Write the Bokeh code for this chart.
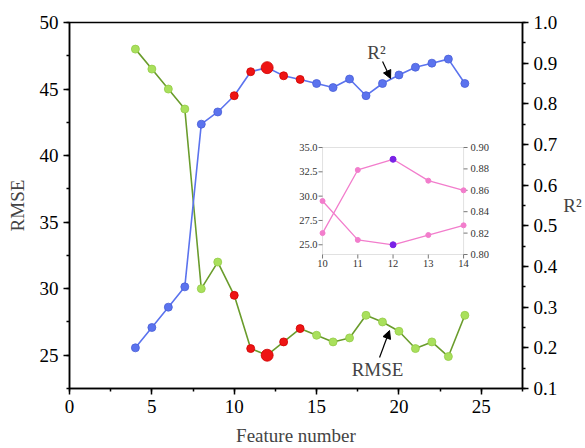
import math
from bokeh.plotting import figure
from bokeh.models import (Range1d, LinearAxis, SingleIntervalTicker, PrintfTickFormatter,
                          Label, Arrow, NormalHead, BoxAnnotation)
from bokeh.core.properties import value
from bokeh.embed import file_html
from bokeh.resources import INLINE

# ---------------- data ----------------
features = list(range(4, 25))
rmse = [48.0, 46.5, 45.0, 43.5, 30.0, 32.0, 29.5, 25.5, 25.0, 26.0, 27.0,
        26.5, 26.0, 26.3, 28.0, 27.5, 26.8, 25.5, 26.0, 24.9, 28.0]
r2 = [0.20, 0.25, 0.30, 0.35, 0.75, 0.78, 0.82, 0.879, 0.889, 0.869, 0.86,
      0.85, 0.84, 0.861, 0.82, 0.85, 0.871, 0.89, 0.90, 0.91, 0.85]
highlight = [10, 11, 12, 13, 14]
best = 12

inset_features = [10, 11, 12, 13, 14]
inset_rmse = [29.5, 25.5, 25.0, 26.0, 27.0]
inset_r2 = [0.82, 0.879, 0.889, 0.869, 0.86]

x_ticks_inset = [10, 11, 12, 13, 14]
yl_ticks_inset = [25.0, 27.5, 30.0, 32.5, 35.0]
yr_ticks_inset = [0.80, 0.82, 0.84, 0.86, 0.88, 0.90]

# ---------------- styling ----------------
FONT = "Liberation Serif"
FS = "19px"
GREEN_LINE = "#6a9c2c"
GREEN_FILL = "#a9e05c"
BLUE = "#5b73ee"
RED = "#ee1414"
PINK = "#f27dcc"
PURPLE = "#7a22e6"

X0, X1 = 0, 27.5
YL0, YL1 = 22.5, 50
YR0, YR1 = 0.1, 1.0

p = figure(width=585, height=448, output_backend="svg", toolbar_location=None,
           x_range=Range1d(X0, X1), y_range=Range1d(YL0, YL1),
           min_border_left=69, min_border_right=63, min_border_top=22, min_border_bottom=60,
           x_axis_type=None, y_axis_type=None)
p.background_fill_color = "white"
p.border_fill_color = "white"
p.outline_line_color = "black"
p.outline_line_width = 1.5
p.xgrid.visible = False
p.ygrid.visible = False
p.extra_y_ranges = {"r2": Range1d(YR0, YR1)}

def style_axis(ax):
    ax.major_label_text_font = FONT
    ax.major_label_text_font_size = FS
    ax.major_label_text_color = "black"
    ax.axis_label_text_font = FONT
    ax.axis_label_text_font_size = FS
    ax.axis_label_text_font_style = "normal"
    ax.axis_line_width = 1.5
    ax.major_tick_line_width = 1.5
    ax.minor_tick_line_width = 1.5
    ax.major_tick_out = 6
    ax.major_tick_in = 0
    ax.minor_tick_out = 3
    ax.minor_tick_in = 0

xax = LinearAxis(ticker=SingleIntervalTicker(interval=5, num_minor_ticks=2),
                 axis_label="Feature number")
style_axis(xax)
xax.major_label_standoff = 5
xax.axis_label_standoff = 9
p.add_layout(xax, "below")

yax = LinearAxis(ticker=SingleIntervalTicker(interval=5, num_minor_ticks=2), axis_label="RMSE")
style_axis(yax)
yax.major_label_standoff = 5
yax.axis_label_standoff = 9
p.add_layout(yax, "left")

rax = LinearAxis(y_range_name="r2", ticker=SingleIntervalTicker(interval=0.1, num_minor_ticks=2),
                 formatter=PrintfTickFormatter(format="%.1f"), axis_label="R²")
style_axis(rax)
rax.major_label_standoff = 5
rax.axis_label_standoff = 3
try:
    rax.axis_label_orientation = "horizontal"
except Exception:
    pass
p.add_layout(rax, "right")

# ---------------- main series ----------------
p.line(features, rmse, line_color=GREEN_LINE, line_width=1.6)
p.line(features, r2, line_color=BLUE, line_width=1.6, y_range_name="r2")

def split(xs, ys):
    normal = [(x, y) for x, y in zip(xs, ys) if x not in highlight]
    hl = [(x, y) for x, y in zip(xs, ys) if x in highlight and x != best]
    bst = [(x, y) for x, y in zip(xs, ys) if x == best]
    return normal, hl, bst

def draw(points, color, line, size, **kw):
    if not points:
        return
    xs = [a for a, _ in points]
    ys = [b for _, b in points]
    p.scatter(xs, ys, size=size, fill_color=color, line_color=line, line_width=0.8, **kw)

n, h, b = split(features, rmse)
draw(n, GREEN_FILL, "#94cc48", 8)
draw(h, RED, "#d00000", 8)
draw(b, RED, "#d00000", 12)

n, h, b = split(features, r2)
draw(n, BLUE, "#4a60d8", 8, y_range_name="r2")
draw(h, RED, "#d00000", 8, y_range_name="r2")
draw(b, RED, "#d00000", 12, y_range_name="r2")

# ---------------- annotations ----------------
def mx(px):
    return (px - 69) / 16.47

def my_l(py):
    return YL1 - (py - 22) / (366 / (YL1 - YL0))

def my_r(py):
    return YR1 - (py - 22) / (366 / (YR1 - YR0))

p.add_layout(Label(x=mx(376), y=my_r(52), y_range_name="r2", text="R²", text_font=FONT,
                   text_font_size=FS, text_align="center", text_baseline="middle"))
p.add_layout(Arrow(end=NormalHead(size=8, fill_color="black", line_color="black"),
                   x_start=mx(382), y_start=my_r(61), x_end=mx(390), y_end=my_r(78),
                   y_range_name="r2", line_width=1.2))
p.add_layout(Label(x=mx(377), y=my_l(369), text="RMSE", text_font=FONT,
                   text_font_size=FS, text_align="center", text_baseline="middle"))
p.add_layout(Arrow(end=NormalHead(size=8, fill_color="black", line_color="black"),
                   x_start=mx(379), y_start=my_l(357), x_end=mx(389), y_end=my_l(330),
                   line_width=1.2))

# ---------------- inset (drawn on extra ranges) ----------------
bx0, bx1 = mx(322), mx(463)
byl0, byl1 = my_l(254), my_l(147)
IX0, IX1 = 10, 14
IYL0, IYL1 = 24, 35
IYR0, IYR1 = 0.80, 0.90

def ext(a0, a1, b0, b1, m0, m1):
    s = (a1 - a0) / (b1 - b0)
    return a0 + (m0 - b0) * s, a0 + (m1 - b0) * s

p.extra_x_ranges = {"ix": Range1d(*ext(IX0, IX1, bx0, bx1, X0, X1))}
p.extra_y_ranges["iyl"] = Range1d(*ext(IYL0, IYL1, byl0, byl1, YL0, YL1))
p.extra_y_ranges["iyr"] = Range1d(*ext(IYR0, IYR1, byl0, byl1, YL0, YL1))

p.add_layout(BoxAnnotation(left=IX0, right=IX1, bottom=IYL0, top=IYL1,
                           x_range_name="ix", y_range_name="iyl",
                           fill_color="white", fill_alpha=1.0,
                           line_color="#9a9a9a", line_width=1, level="underlay"))

IFS = "10.5px"
TICK = "#777777"
p.ray(x=[IX0] * len(yl_ticks_inset), y=yl_ticks_inset, length=4, length_units="screen",
      angle=math.pi, line_color=TICK, x_range_name="ix", y_range_name="iyl")
p.text(x=[IX0] * len(yl_ticks_inset), y=yl_ticks_inset,
       text=["%.1f" % v for v in yl_ticks_inset], x_offset=-5,
       text_align="right", text_baseline="middle", text_font=value(FONT),
       text_font_size=IFS, text_color="#333333", x_range_name="ix", y_range_name="iyl")
p.ray(x=[IX1] * len(yr_ticks_inset), y=yr_ticks_inset, length=4, length_units="screen",
      angle=0, line_color=TICK, x_range_name="ix", y_range_name="iyr")
p.text(x=[IX1] * len(yr_ticks_inset), y=yr_ticks_inset,
       text=["%.2f" % v for v in yr_ticks_inset], x_offset=7,
       text_align="left", text_baseline="middle", text_font=value(FONT),
       text_font_size=IFS, text_color="#333333", x_range_name="ix", y_range_name="iyr")
p.ray(x=x_ticks_inset, y=[IYL0] * len(x_ticks_inset), length=4, length_units="screen",
      angle=-math.pi / 2, line_color=TICK, x_range_name="ix", y_range_name="iyl")
p.text(x=x_ticks_inset, y=[IYL0] * len(x_ticks_inset),
       text=[str(v) for v in x_ticks_inset], y_offset=5,
       text_align="center", text_baseline="top", text_font=value(FONT),
       text_font_size=IFS, text_color="#333333", x_range_name="ix", y_range_name="iyl")

p.line(inset_features, inset_rmse, line_color=PINK, line_width=1.3,
       x_range_name="ix", y_range_name="iyl")
p.line(inset_features, inset_r2, line_color=PINK, line_width=1.3,
       x_range_name="ix", y_range_name="iyr")

def split_inset(xs, ys):
    a = [(x, y) for x, y in zip(xs, ys) if x != best]
    c = [(x, y) for x, y in zip(xs, ys) if x == best]
    return a, c

for ys, rn in ((inset_rmse, "iyl"), (inset_r2, "iyr")):
    a, c = split_inset(inset_features, ys)
    p.scatter([q[0] for q in a], [q[1] for q in a], size=5, fill_color=PINK, line_color=PINK,
              x_range_name="ix", y_range_name=rn)
    p.scatter([q[0] for q in c], [q[1] for q in c], size=6, fill_color=PURPLE, line_color=PURPLE,
              x_range_name="ix", y_range_name=rn)

open("out.html", "w").write(file_html(p, INLINE))
